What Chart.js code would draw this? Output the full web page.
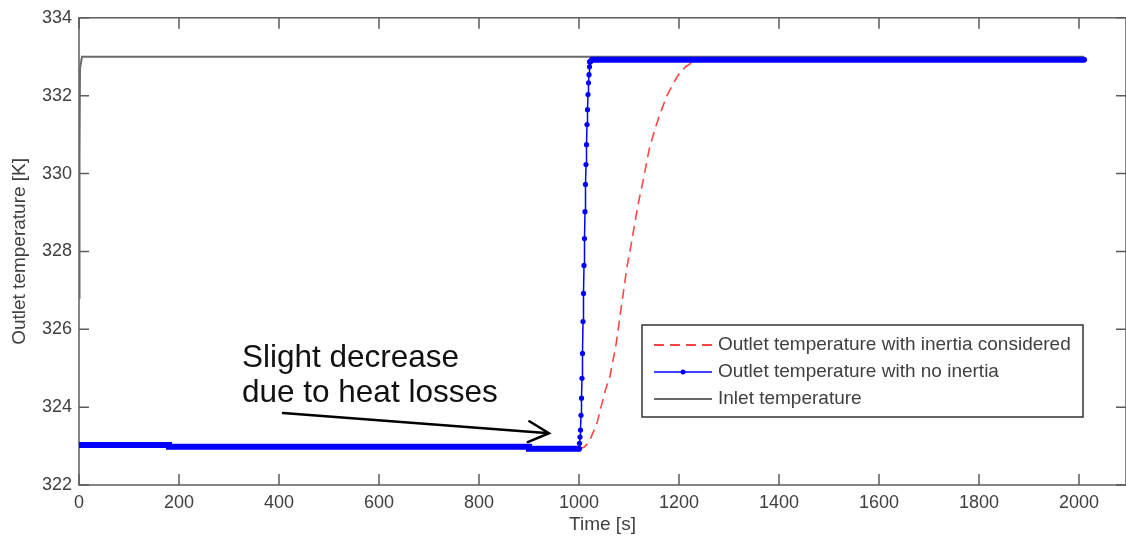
<!DOCTYPE html>
<html>
<head>
<meta charset="utf-8">
<title>Outlet temperature</title>
<script src="https://cdn.jsdelivr.net/npm/chart.js@4.4.1/dist/chart.umd.min.js"></script>
<style>
    html, body { margin: 0; padding: 0; background: #fff; }
</style>
</head>
<body>
<canvas id="chart" width="1126" height="538"></canvas>
<script>
// tick values
const xTicks = [0, 200, 400, 600, 800, 1000, 1200, 1400, 1600, 1800, 2000];
const yTicks = [322, 324, 326, 328, 330, 332, 334];

// outlet temperature with inertia considered (red dashed)
const inertiaTime = [1000, 1010, 1020, 1036, 1042, 1052, 1062, 1074, 1086, 1096, 1106, 1118, 1128, 1140, 1152, 1164, 1176, 1190, 1202, 1214, 1226, 1240, 2010];
const inertiaTemp = [322.93, 322.97, 323.1, 323.59, 323.9, 324.4, 324.8, 325.6, 326.7, 327.6, 328.3, 329.2, 329.8, 330.6, 331.15, 331.6, 332.0, 332.35, 332.6, 332.75, 332.85, 332.9, 332.9];

// outlet temperature with no inertia (blue, dots)
const noInertiaTime = [0, 180, 180, 900, 900, 1000, 1001, 1002, 1003, 1004, 1005, 1006, 1007, 1008, 1009, 1010, 1011, 1012, 1013, 1014, 1015, 1016, 1017, 1018, 1019, 1020, 1021, 1022, 1026, 2010];
const noInertiaTemp = [323.03, 323.03, 322.98, 322.98, 322.93, 322.93, 323.07, 323.23, 323.41, 323.79, 324.23, 324.74, 325.38, 326.2, 326.92, 327.64, 328.33, 329.02, 329.72, 330.23, 330.74, 331.26, 331.64, 332.03, 332.33, 332.54, 332.74, 332.87, 332.92, 332.92];

// inlet temperature (grey)
const inletTime = [0, 1, 2, 6, 2010];
const inletTemp = [326.8, 330.5, 332.7, 333.0, 333.0];

const seriesLabels = [
    'Outlet temperature with inertia considered',
    'Outlet temperature with no inertia',
    'Inlet temperature'
];

// annotation text + arrow (data coordinates)
const noteLines = ['Slight decrease', 'due to heat losses'];
const noteTime = 326;
const noteTemp = [325.03, 324.13];
const arrowFrom = [408, 323.85];
const arrowTo = [940, 323.33];

const fontFamily = '"Liberation Sans", Arial, sans-serif';
const textColor = '#404040';

function toPoints(times, temps) {
    return times.map((t, i) => ({ x: t, y: temps[i] }));
}

const frameAndLegend = {
    id: 'frameAndLegend',
    beforeDatasetsDraw(chart) {
        const { ctx, chartArea: a, scales: { x, y } } = chart;
        ctx.save();
        ctx.strokeStyle = '#5c5c5c';
        ctx.lineWidth = 1.5;
        ctx.strokeRect(a.left, a.top, a.right - a.left, a.bottom - a.top);
        ctx.beginPath();
        xTicks.forEach(v => {
            const px = x.getPixelForValue(v);
            ctx.moveTo(px, a.bottom); ctx.lineTo(px, a.bottom - 11);
            ctx.moveTo(px, a.top); ctx.lineTo(px, a.top + 11);
        });
        yTicks.forEach(v => {
            const py = y.getPixelForValue(v);
            ctx.moveTo(a.left, py); ctx.lineTo(a.left + 10, py);
            ctx.moveTo(a.right, py); ctx.lineTo(a.right - 10, py);
        });
        ctx.stroke();
        ctx.restore();
    },
    afterDatasetsDraw(chart) {
        const { ctx, scales: { x, y } } = chart;
        ctx.save();

        // annotation
        ctx.fillStyle = '#111';
        ctx.font = '31.5px ' + fontFamily;
        ctx.textBaseline = 'alphabetic';
        ctx.textAlign = 'left';
        noteLines.forEach((txt, i) => {
            ctx.fillText(txt, x.getPixelForValue(noteTime), y.getPixelForValue(noteTemp[i]));
        });
        const x0 = x.getPixelForValue(arrowFrom[0]), y0 = y.getPixelForValue(arrowFrom[1]);
        const x1 = x.getPixelForValue(arrowTo[0]), y1 = y.getPixelForValue(arrowTo[1]);
        const ang = Math.atan2(y1 - y0, x1 - x0);
        ctx.strokeStyle = '#000';
        ctx.lineWidth = 2.5;
        ctx.lineCap = 'round';
        ctx.beginPath();
        ctx.moveTo(x0, y0); ctx.lineTo(x1, y1);
        ctx.moveTo(x1 - 23 * Math.cos(ang - 0.47), y1 - 23 * Math.sin(ang - 0.47));
        ctx.lineTo(x1, y1);
        ctx.lineTo(x1 - 23 * Math.cos(ang + 0.47), y1 - 23 * Math.sin(ang + 0.47));
        ctx.stroke();

        // legend box
        const box = { left: 642, top: 325, width: 441, height: 92 };
        ctx.fillStyle = '#fff';
        ctx.fillRect(box.left, box.top, box.width, box.height);
        ctx.strokeStyle = '#333';
        ctx.lineWidth = 1.5;
        ctx.lineCap = 'butt';
        ctx.strokeRect(box.left, box.top, box.width, box.height);
        const rows = [345, 372, 399];
        chart.data.datasets.forEach((ds, i) => {
            const ry = rows[i];
            ctx.strokeStyle = ds.borderColor;
            ctx.lineWidth = ds.legendWidth;
            ctx.setLineDash(ds.borderDash || []);
            ctx.beginPath();
            ctx.moveTo(654, ry); ctx.lineTo(712, ry);
            ctx.stroke();
            ctx.setLineDash([]);
            if (ds.legendDot) {
                ctx.fillStyle = ds.borderColor;
                ctx.beginPath();
                ctx.arc(683, ry, 2.5, 0, Math.PI * 2);
                ctx.fill();
            }
            ctx.fillStyle = textColor;
            ctx.font = '19px ' + fontFamily;
            ctx.textBaseline = 'middle';
            ctx.fillText(ds.label, 718, ry);
        });
        ctx.restore();
    }
};

const ctx = document.getElementById('chart').getContext('2d');

new Chart(ctx, {
    type: 'line',
    data: {
        datasets: [{
            label: seriesLabels[0],
            data: toPoints(inertiaTime, inertiaTemp),
            borderColor: '#ff4545',
            borderWidth: 1.6,
            borderDash: [10, 6],
            legendWidth: 2,
            pointRadius: 0,
            order: 2
        }, {
            label: seriesLabels[1],
            data: toPoints(noInertiaTime, noInertiaTemp),
            borderColor: '#0000ff',
            backgroundColor: '#0000ff',
            borderWidth: 1.5,
            borderCapStyle: 'round',
            legendWidth: 1.5,
            legendDot: true,
            pointRadius: c => (c.raw && c.raw.x >= 1000 && c.raw.x <= 1022) ? 2.6 : 0,
            pointBorderWidth: 0,
            segment: {
                borderWidth: c => Math.abs(c.p1.parsed.y - c.p0.parsed.y) > 0.1 ? 1.5 : 6
            },
            order: 0
        }, {
            label: seriesLabels[2],
            data: toPoints(inletTime, inletTemp),
            borderColor: '#6a6a6a',
            borderWidth: 2,
            legendWidth: 2,
            pointRadius: 0,
            order: 1
        }]
    },
    options: {
        responsive: false,
        animation: false,
        layout: { padding: { top: 17, right: 0, bottom: 0, left: 0 } },
        plugins: {
            legend: { display: false },
            tooltip: { enabled: false }
        },
        scales: {
            x: {
                type: 'linear',
                min: 0,
                max: 2094,
                grid: { display: false, drawTicks: false },
                border: { display: false },
                ticks: { stepSize: 200, color: textColor, padding: 7, maxRotation: 0, font: { family: fontFamily, size: 18 }, callback: v => String(v) },
                afterBuildTicks: scale => { scale.ticks = xTicks.map(v => ({ value: v })); },
                afterFit: scale => { scale.height = 53; },
                title: { display: true, text: 'Time [s]', color: textColor, font: { family: fontFamily, size: 19 }, padding: { top: 0, bottom: 2 } }
            },
            y: {
                min: 322,
                max: 334,
                grid: { display: false, drawTicks: false },
                border: { display: false },
                ticks: { stepSize: 2, color: textColor, padding: 7, font: { family: fontFamily, size: 18 }, callback: v => String(v) },
                afterBuildTicks: scale => { scale.ticks = yTicks.map(v => ({ value: v })); },
                afterFit: scale => { scale.width = 79; },
                title: { display: true, text: 'Outlet temperature [K]', color: textColor, font: { family: fontFamily, size: 19 }, padding: { top: 8, bottom: 0 } }
            }
        }
    },
    plugins: [frameAndLegend]
});
</script>
</body>
</html>
